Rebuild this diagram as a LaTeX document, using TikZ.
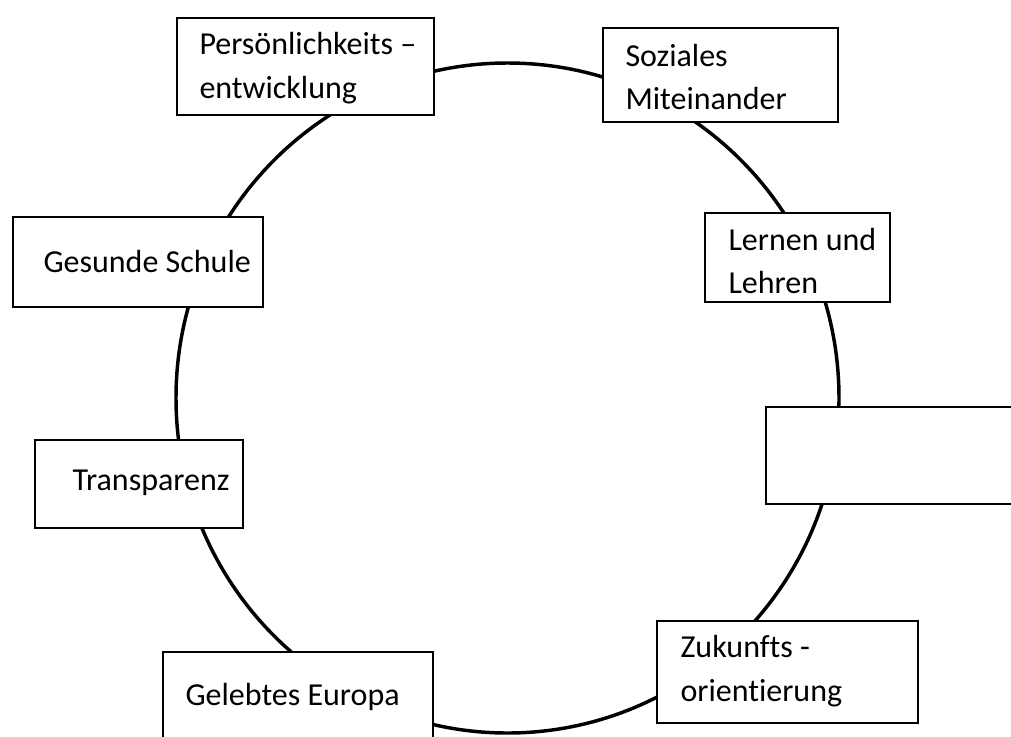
\documentclass[tikz,border=0pt]{standalone}
\usepackage{fontspec}
\setmainfont[Ligatures=NoCommon]{Carlito}

\tikzset{every picture/.style={line width=0.75pt}}
\tikzset{
  kasten/.style={draw=black, fill=white, line width=1.2pt},
  beschriftung/.style={anchor=west, inner sep=0.75pt, align=left, font=\fontsize{24}{32.5}\selectfont},
}

\begin{document}
\begin{tikzpicture}[x=0.75pt,y=0.75pt,yscale=-1,xscale=1]
\clip (0,0) rectangle (1011,736);

%Shape: Ellipse [id:kreis] 
\draw [line width=2.6pt] (507.5,398) ellipse (331.5 and 335);

%Shape: Rectangle [id:persoenlichkeit] 
\draw [kasten] (177,18) rectangle (434,115);
%Shape: Rectangle [id:soziales] 
\draw [kasten] (603,28) rectangle (838,122);
%Shape: Rectangle [id:gesund] 
\draw [kasten] (13,217) rectangle (263,307);
%Shape: Rectangle [id:lernen] 
\draw [kasten] (705,213) rectangle (890,302);
%Shape: Rectangle [id:leer] 
\draw [kasten] (766,407) rectangle (1020,504);
%Shape: Rectangle [id:transparenz] 
\draw [kasten] (35,440) rectangle (243,528);
%Shape: Rectangle [id:europa] 
\draw [kasten] (163,652) rectangle (433,745);
%Shape: Rectangle [id:zukunft] 
\draw [kasten] (657,621) rectangle (918,723);

% Text Node
\node [beschriftung] (pers) at (198,68) {Persönlichkeits –\\entwicklung};
% Text Node
\node [beschriftung] (soz) at (624,77) {Soziales\\Miteinander};
% Text Node
\node [beschriftung] (ges) at (42,262) {Gesunde Schule};
% Text Node
\node [beschriftung] (lern) at (727,261) {Lernen und\\Lehren};
% Text Node
\node [beschriftung] (trans) at (71,483) {Transparenz};
% Text Node
\node [beschriftung] (eur) at (184,697) {Gelebtes Europa};
% Text Node
\node [beschriftung] (zuk) at (679,671) {Zukunfts -\\orientierung};

\end{tikzpicture}
\end{document}
